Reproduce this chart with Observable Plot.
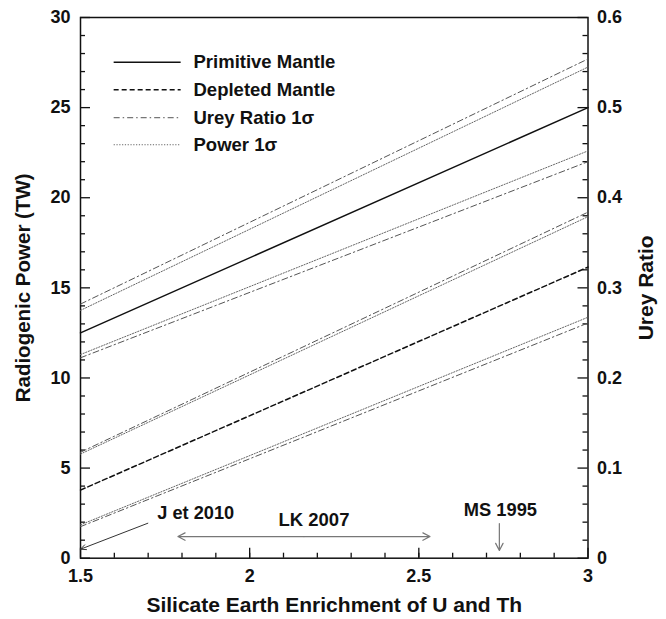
<!DOCTYPE html>
<html>
<head>
<meta charset="utf-8">
<script src="https://cdn.jsdelivr.net/npm/d3@7"></script>
<script src="https://cdn.jsdelivr.net/npm/@observablehq/plot@0.6"></script>
<style>
  html, body { margin: 0; padding: 0; background: #fff; }
</style>
</head>
<body>
<div id="chart"></div>
<script>
// ---- data ----
const enrichment = [1.5, 3];              // x: Silicate Earth enrichment of U and Th
const primitiveMantle = [12.5, 25.0];     // TW
const depletedMantle  = [3.78, 16.15];
const ureyUpperPM  = [14.1, 27.7];
const powerUpperPM = [13.75, 27.25];
const powerLowerPM = [11.3, 22.6];
const ureyLowerPM  = [11.12, 22.0];
const ureyUpperDM  = [5.88, 19.2];
const powerUpperDM = [5.78, 18.95];
const powerLowerDM = [1.85, 13.37];
const ureyLowerDM  = [1.75, 13.05];

const ureyPerTW = 1 / 50;                 // right axis: Urey ratio = power / 50 TW

const xMajor = [1.5, 2, 2.5, 3];
const xMinor = d3.range(16, 30, 1).map(v => v / 10);
const yMajor = [0, 5, 10, 15, 20, 25, 30];
const yMinor = d3.range(0, 31, 1).filter(v => v % 5 !== 0);
const ureyMajor = [0, 0.1, 0.2, 0.3, 0.4, 0.5, 0.6];
const ureyMinor = d3.range(0, 61, 2).filter(v => v % 10 !== 0).map(v => v / 100);

const legendLabels = ["Primitive Mantle", "Depleted Mantle", "Urey Ratio 1σ", "Power 1σ"];
const legendKinds  = ["solid", "dashed", "dashdot", "dotted"];
const legendY      = [27.52, 25.99, 24.44, 22.94];
const legendX      = [1.598, 1.796];
const legendTextX  = 1.834;

// annotations
const jetLabel = {text: "J et 2010", x: 1.727, y: 2.5};
const jetArrow = {x1: 1.699, y1: 1.94, x2: 1.5, y2: 0.5};
const lkLabel  = {text: "LK 2007", x: 2.19, y: 2.09};
const lkRange  = {x1: 1.788, x2: 2.533, y: 1.2};
const msLabel  = {text: "MS 1995", x: 2.741, y: 2.69};
const msArrow  = {x: 2.738, y1: 1.92, y2: 0.43};

// ---- build table ----
const series = [
  {name: "Primitive Mantle", kind: "solid",   values: primitiveMantle},
  {name: "Depleted Mantle",  kind: "dashed",  values: depletedMantle},
  {name: "Urey +1σ PM",      kind: "dashdot", values: ureyUpperPM},
  {name: "Power +1σ PM",     kind: "dotted",  values: powerUpperPM},
  {name: "Power -1σ PM",     kind: "dotted",  values: powerLowerPM},
  {name: "Urey -1σ PM",      kind: "dashdot", values: ureyLowerPM},
  {name: "Urey +1σ DM",      kind: "dashdot", values: ureyUpperDM},
  {name: "Power +1σ DM",     kind: "dotted",  values: powerUpperDM},
  {name: "Power -1σ DM",     kind: "dotted",  values: powerLowerDM},
  {name: "Urey -1σ DM",      kind: "dashdot", values: ureyLowerDM}
];
const rows = series.flatMap(s => s.values.map((v, i) => ({name: s.name, kind: s.kind, x: enrichment[i], y: v})));

const styles = {
  solid:   {stroke: "#111", strokeWidth: 1.5},
  dashed:  {stroke: "#111", strokeWidth: 1.5, strokeDasharray: "5,3"},
  dashdot: {stroke: "#555", strokeWidth: 1,   strokeDasharray: "6,3,1.5,3"},
  dotted:  {stroke: "#666", strokeWidth: 1,   strokeDasharray: "1.2,1.6"}
};

const lineMarks = Object.keys(styles).map(kind =>
  Plot.line(rows.filter(r => r.kind === kind), {x: "x", y: "y", z: "name", ...styles[kind]})
);

const legendRows = legendLabels.map((label, i) => ({label, kind: legendKinds[i], y: legendY[i]}));
const legendMarks = Object.keys(styles).map(kind =>
  Plot.link(legendRows.filter(r => r.kind === kind), {x1: () => legendX[0], x2: () => legendX[1], y1: "y", y2: "y", ...styles[kind]})
);

const W = 666, H = 619, mL = 80, mR = 78.5, mT = 17, mB = 61.3;
const frameW = W - mL - mR, frameH = H - mT - mB;
const major = 10, minor = 5;
const tickStyle = {stroke: "#111", strokeWidth: 1.3};

const font = "'Liberation Sans', Arial, Helvetica, sans-serif";

const chart = Plot.plot({
  width: W,
  height: H,
  marginLeft: mL,
  marginRight: mR,
  marginTop: mT,
  marginBottom: mB,
  x: {domain: [1.5, 3]},
  y: {domain: [0, 30]},
  style: {fontFamily: font, fontWeight: "bold", fontSize: "18px", background: "#fff", color: "#111"},
  marks: [
    // inward ticks
    Plot.tickX(xMajor, {x: d => d, insetTop: frameH - major, ...tickStyle}),
    Plot.tickX(xMinor, {x: d => d, insetTop: frameH - minor, ...tickStyle}),
    Plot.tickY(yMajor, {y: d => d, insetRight: frameW - major, ...tickStyle}),
    Plot.tickY(yMinor, {y: d => d, insetRight: frameW - minor, ...tickStyle}),
    Plot.tickY(ureyMajor.map(u => u / ureyPerTW), {y: d => d, insetLeft: frameW - major, ...tickStyle}),
    Plot.tickY(ureyMinor.map(u => u / ureyPerTW), {y: d => d, insetLeft: frameW - minor, ...tickStyle}),
    // tick labels
    Plot.axisX(xMajor, {tickSize: 0, tickPadding: 11, tickFormat: d => String(d), label: null, fontSize: 18}),
    Plot.axisY(yMajor, {anchor: "left", tickSize: 0, tickPadding: 10, tickFormat: d => String(d), label: null, fontSize: 18}),
    Plot.axisY(ureyMajor.map(u => u / ureyPerTW), {anchor: "right", tickSize: 0, tickPadding: 9,
      tickFormat: d => { const u = d * ureyPerTW; return u === 0 ? "0" : u.toFixed(1); }, label: null, fontSize: 18}),
    Plot.frame({stroke: "#111", strokeWidth: 1.5}),

    // axis titles
    Plot.text(["Radiogenic Power (TW)"], {frameAnchor: "left", dx: -57, rotate: -90, textAnchor: "middle", lineAnchor: "middle", fontSize: 20.5, fontWeight: "bold", fill: "#111"}),
    Plot.text(["Urey Ratio"], {frameAnchor: "right", dx: 58, rotate: -90, textAnchor: "middle", lineAnchor: "middle", fontSize: 21, fontWeight: "bold", fill: "#111"}),
    Plot.text(["Silicate Earth Enrichment of U and Th"], {frameAnchor: "bottom", dy: 47, textAnchor: "middle", lineAnchor: "middle", fontSize: 21, fontWeight: "bold", fill: "#111"}),

    // data lines
    ...lineMarks,

    // legend
    ...legendMarks,
    Plot.text(legendRows, {x: () => legendTextX, y: "y", text: "label", textAnchor: "start", fontSize: 18.5, fontWeight: "bold", fill: "#111"}),

    // annotations
    Plot.arrow([jetArrow], {x1: "x1", y1: "y1", x2: "x2", y2: "y2", stroke: "#333", strokeWidth: 1, headLength: 9, headAngle: 50}),
    Plot.text([jetLabel], {x: "x", y: "y", text: "text", textAnchor: "start", fontSize: 18.2, fontWeight: "bold", fill: "#111"}),
    Plot.arrow([lkRange], {x1: d => (d.x1 + d.x2) / 2, x2: "x1", y1: "y", y2: "y", stroke: "#777", strokeWidth: 1.2, headLength: 10, headAngle: 55}),
    Plot.arrow([lkRange], {x1: d => (d.x1 + d.x2) / 2, x2: "x2", y1: "y", y2: "y", stroke: "#777", strokeWidth: 1.2, headLength: 10, headAngle: 55}),
    Plot.text([lkLabel], {x: "x", y: "y", text: "text", fontSize: 18.5, fontWeight: "bold", fill: "#111"}),
    Plot.arrow([msArrow], {x1: "x", x2: "x", y1: "y1", y2: "y2", stroke: "#777", strokeWidth: 1.2, headLength: 10, headAngle: 55}),
    Plot.text([msLabel], {x: "x", y: "y", text: "text", fontSize: 18.3, fontWeight: "bold", fill: "#111"})
  ]
});

document.getElementById("chart").appendChild(chart);
</script>
</body>
</html>
